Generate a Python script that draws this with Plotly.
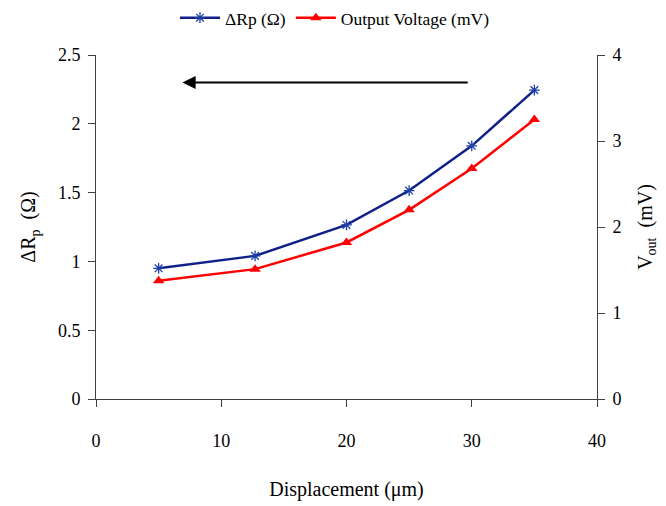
import plotly.graph_objects as go

displacement = [5, 12.7, 20, 25, 30, 35]
delta_rp = [0.95, 1.04, 1.265, 1.515, 1.84, 2.245]
v_out = [1.375, 1.51, 1.82, 2.2, 2.68, 3.25]

x_ticks = [0, 10, 20, 30, 40]
left_ticks = [0, 0.5, 1, 1.5, 2, 2.5]
right_ticks = [0, 1, 2, 3, 4]

FONT = "Liberation Serif, Times New Roman, serif"
AX = "#404040"

fig = go.Figure()
fig.add_trace(go.Scatter(
    x=displacement, y=delta_rp, name="ΔRp (Ω)", mode="lines+markers",
    line=dict(color="#10208a", width=2.5),
    marker=dict(symbol="asterisk", size=9, line=dict(color="#1f3fa8", width=1.3)),
    yaxis="y"))
fig.add_trace(go.Scatter(
    x=displacement, y=v_out, name="Output Voltage (mV)", mode="lines+markers",
    line=dict(color="#ff0000", width=2.5),
    marker=dict(symbol="triangle-up", size=10, color="#ff0000"),
    yaxis="y2"))

fig.add_annotation(x=6.9, y=2.3, ax=29.8, ay=2.3, xref="x", yref="y", axref="x", ayref="y",
                   showarrow=True, arrowhead=2, arrowsize=1.2, arrowwidth=2.2, arrowcolor="black", text="")

axis_common = dict(showgrid=False, zeroline=False, showline=True, linecolor=AX, linewidth=1,
                   ticks="outside", ticklen=7, tickcolor=AX, automargin=False,
                   tickfont=dict(family=FONT, size=18, color="black"))

fig.update_layout(
    width=666, height=506,
    margin=dict(l=88, r=77, t=47, b=115, autoexpand=False),
    paper_bgcolor="white", plot_bgcolor="white",
    font=dict(family=FONT, color="black"),
    xaxis=dict(range=[0, 40], tickvals=x_ticks, ticklabelstandoff=18,
               title=dict(text="Displacement (μm)", font=dict(family=FONT, size=20), standoff=32),
               **axis_common),
    yaxis=dict(range=[0, 2.5], tickvals=left_ticks, ticklabelstandoff=4,
               title=dict(text="ΔR<sub>p</sub>  (Ω)", font=dict(family=FONT, size=20), standoff=16),
               **axis_common),
    yaxis2=dict(range=[0, 4], tickvals=right_ticks, overlaying="y", side="right", ticklabelstandoff=4,
                title=dict(text="V<sub>out</sub>  (mV)", font=dict(family=FONT, size=20), standoff=17),
                **axis_common),
    legend=dict(orientation="h", x=0.477, xanchor="center", y=1.108, yanchor="middle",
                font=dict(family=FONT, size=17.5), bgcolor="rgba(0,0,0,0)", itemwidth=40),
    showlegend=True,
)

fig.write_html("out.html")
